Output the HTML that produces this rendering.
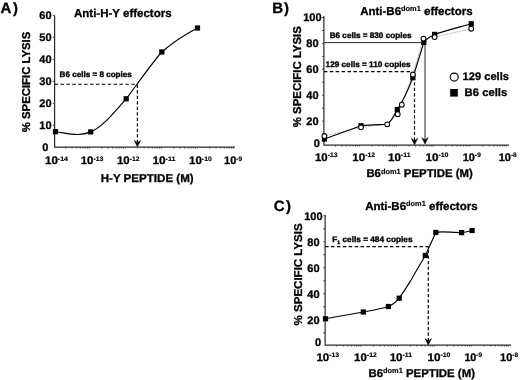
<!DOCTYPE html>
<html><head><meta charset="utf-8">
<style>
html,body{margin:0;padding:0;background:#fff;}
body{width:520px;height:380px;overflow:hidden;font-family:"Liberation Sans",sans-serif;}
svg{display:block;will-change:transform;}
text{font-family:"Liberation Sans",sans-serif;font-weight:bold;fill:#000;stroke:#000;stroke-width:0.3px;text-rendering:geometricPrecision;}
.an{stroke-width:0.35px;}
.tk{font-size:11.0px;}
.ax{font-size:11.4px;}
.tt{font-size:11.5px;}
.an{font-size:8.1px;}
.pl{font-size:15px;}
.lg{font-size:11px;}
.sup{font-size:7.4px;}
.xs{font-size:6.6px;stroke-width:0.15px;}
.sup{stroke-width:0.15px;}
</style></head><body>
<svg width="520" height="380" viewBox="0 0 520 380">
<rect width="520" height="380" fill="#fff"/>

<g id="A">
<text class="pl" x="0.6" y="13.4" textLength="17.3">A)</text>
<text class="tt" x="74" y="16.9" textLength="97.6" lengthAdjust="spacingAndGlyphs">Anti-H-Y effectors</text>
<text class="ax" transform="translate(29.8,132.2) rotate(-90)" textLength="100.5" lengthAdjust="spacingAndGlyphs">% SPECIFIC LYSIS</text>
<path d="M54.600 15.5V147.200H235" fill="none" stroke="#2a2a2a" stroke-width="1.2"/>
<path d="M52.8 125.3H54.6M52.8 103.3H54.6M52.8 81.3H54.6M52.8 59.3H54.6M52.8 37.3H54.6M52.8 15.3H54.6" stroke="#2a2a2a" stroke-width="0.9"/>
<g class="tk" text-anchor="middle">
<text x="45.4" y="151.3">0</text>
<text x="45.4" y="129.3">10</text>
<text x="45.4" y="107.3">20</text>
<text x="45.4" y="85.3">30</text>
<text x="45.4" y="63.3">40</text>
<text x="45.4" y="41.3">50</text>
<text x="45.4" y="19.3">60</text>
</g>
<path d="M65.8 147.4v1.3M72.2 147.4v1.3M76.7 147.4v1.3M80.2 147.4v1.3M83.0 147.4v1.3M85.4 147.4v1.3M87.5 147.4v1.3M89.4 147.4v1.3M101.8 147.4v1.3M108.2 147.4v1.3M112.7 147.4v1.3M116.2 147.4v1.3M119.0 147.4v1.3M121.4 147.4v1.3M123.5 147.4v1.3M125.4 147.4v1.3M137.8 147.4v1.3M144.2 147.4v1.3M148.7 147.4v1.3M152.2 147.4v1.3M155.0 147.4v1.3M157.4 147.4v1.3M159.5 147.4v1.3M161.4 147.4v1.3M173.8 147.4v1.3M180.2 147.4v1.3M184.7 147.4v1.3M188.2 147.4v1.3M191.0 147.4v1.3M193.4 147.4v1.3M195.5 147.4v1.3M197.4 147.4v1.3M209.8 147.4v1.3M216.2 147.4v1.3M220.7 147.4v1.3M224.2 147.4v1.3M227.0 147.4v1.3M229.4 147.4v1.3M231.5 147.4v1.3M233.4 147.4v1.3" stroke="#222" stroke-width="0.7"/>
<g class="tk">
<text x="45.0" y="164.3" textLength="22.9" lengthAdjust="spacingAndGlyphs">10<tspan class="xs" dy="-3.6">-14</tspan></text>
<text x="80.7" y="164.3" textLength="22.7" lengthAdjust="spacingAndGlyphs">10<tspan class="xs" dy="-3.6">-13</tspan></text>
<text x="117.0" y="164.3" textLength="22.6" lengthAdjust="spacingAndGlyphs">10<tspan class="xs" dy="-3.6">-12</tspan></text>
<text x="152.4" y="164.3" textLength="23.1" lengthAdjust="spacingAndGlyphs">10<tspan class="xs" dy="-3.6">-11</tspan></text>
<text x="189.1" y="164.3" textLength="22.7" lengthAdjust="spacingAndGlyphs">10<tspan class="xs" dy="-3.6">-10</tspan></text>
<text x="224.1" y="164.3" textLength="18.0" lengthAdjust="spacingAndGlyphs">10<tspan class="xs" dy="-3.6">-9</tspan></text>
</g>
<text class="ax" x="100.7" y="182.2" textLength="93" lengthAdjust="spacingAndGlyphs">H-Y PEPTIDE (M)</text>
<text class="an" x="59.6" y="76.9" textLength="72.2" lengthAdjust="spacingAndGlyphs">B6 cells = 8 copies</text>
<path d="M54.600 84.2H137.4" fill="none" stroke="#000" stroke-width="1.1" stroke-dasharray="3.5 2.4"/>
<path d="M137.400 137.600V84.2" fill="none" stroke="#000" stroke-width="1.2" stroke-dasharray="3.3 2.2"/>
<path d="M137.400 139.800V145" fill="none" stroke="#000" stroke-width="1.2"/>
<path d="M137.4 146.8L134.2 140.4L137.4 142.8L140.6 140.4Z" fill="#000" stroke="#000" stroke-width="0.5" stroke-linejoin="miter"/>
<path d="M55.5 131.7C63 132.6 70 134.6 78 134.5C83 134.4 87 133.4 90.700 131.900C103 127 115 111 126.200 98.800C133 90 155 59 161.800 52C172 43 186 34 197.500 28" fill="none" stroke="#000" stroke-width="1.15"/>
<g fill="#000">
<rect x="52.90" y="129.10" width="5.2" height="5.2"/>
<rect x="88.10" y="129.30" width="5.2" height="5.2"/>
<rect x="123.60" y="96.20" width="5.2" height="5.2"/>
<rect x="159.20" y="49.40" width="5.2" height="5.2"/>
<rect x="194.90" y="25.40" width="5.2" height="5.2"/>
</g></g>
<g id="B">
<text class="pl" x="272.3" y="12.5" textLength="16.8">B)</text>
<text class="tt" x="360.2" y="15">Anti-B6<tspan class="sup" dy="-3.9">dom1</tspan><tspan dy="3.9"> effectors</tspan></text>
<text class="ax" transform="translate(300.8,127.2) rotate(-90)" textLength="101" lengthAdjust="spacingAndGlyphs">% SPECIFIC LYSIS</text>
<path d="M323.900 16V145.100H509" fill="none" stroke="#2a2a2a" stroke-width="1.2"/>
<path d="M322.1 134.1H323.9M322.1 121.1H323.9M322.1 108.2H323.9M322.1 95.2H323.9M322.1 82.2H323.9M322.1 69.3H323.9M322.1 56.4H323.9M322.1 43.4H323.9M322.1 30.5H323.9M322.1 17.5H323.9" stroke="#2a2a2a" stroke-width="0.9"/>
<g class="tk" text-anchor="middle">
<text x="312.4" y="125.0">20</text>
<text x="312.4" y="99.1">40</text>
<text x="312.4" y="73.2">60</text>
<text x="312.4" y="47.3">80</text>
<text x="312.4" y="21.4">100</text>
<text x="316.9" y="147">0</text>
</g>
<path d="M335.5 145.3v1.3M342.0 145.3v1.3M346.6 145.3v1.3M350.1 145.3v1.3M353.0 145.3v1.3M355.5 145.3v1.3M357.6 145.3v1.3M359.5 145.3v1.3M372.3 145.3v1.3M378.8 145.3v1.3M383.4 145.3v1.3M386.9 145.3v1.3M389.8 145.3v1.3M392.3 145.3v1.3M394.4 145.3v1.3M396.3 145.3v1.3M409.1 145.3v1.3M415.6 145.3v1.3M420.2 145.3v1.3M423.7 145.3v1.3M426.6 145.3v1.3M429.1 145.3v1.3M431.2 145.3v1.3M433.1 145.3v1.3M445.9 145.3v1.3M452.4 145.3v1.3M457.0 145.3v1.3M460.5 145.3v1.3M463.4 145.3v1.3M465.9 145.3v1.3M468.0 145.3v1.3M469.9 145.3v1.3M482.7 145.3v1.3M489.2 145.3v1.3M493.8 145.3v1.3M497.3 145.3v1.3M500.2 145.3v1.3M502.7 145.3v1.3M504.8 145.3v1.3M506.7 145.3v1.3" stroke="#222" stroke-width="0.7"/>
<g class="tk">
<text x="315.0" y="160.8" textLength="22.5" lengthAdjust="spacingAndGlyphs">10<tspan class="xs" dy="-3.6">-13</tspan></text>
<text x="352.3" y="160.8" textLength="22.9" lengthAdjust="spacingAndGlyphs">10<tspan class="xs" dy="-3.6">-12</tspan></text>
<text x="388.1" y="160.8" textLength="22.5" lengthAdjust="spacingAndGlyphs">10<tspan class="xs" dy="-3.6">-11</tspan></text>
<text x="425.4" y="160.8" textLength="23.1" lengthAdjust="spacingAndGlyphs">10<tspan class="xs" dy="-3.6">-10</tspan></text>
<text x="462.8" y="160.8" textLength="18.0" lengthAdjust="spacingAndGlyphs">10<tspan class="xs" dy="-3.6">-9</tspan></text>
<text x="498.7" y="160.8" textLength="18.1" lengthAdjust="spacingAndGlyphs">10<tspan class="xs" dy="-3.6">-8</tspan></text>
</g>
<text class="ax" x="366.4" y="177.4">B6<tspan class="sup" dy="-3.9">dom1</tspan><tspan dy="3.9"> PEPTIDE (M)</tspan></text>
<text class="an" x="329.7" y="37.5" textLength="81.8" lengthAdjust="spacingAndGlyphs">B6 cells = 830 copies</text>
<text class="an" x="325.6" y="66.5" textLength="85" lengthAdjust="spacingAndGlyphs">129 cells = 110 copies</text>
<path d="M323.900 42.600H425V142" fill="none" stroke="#2a2a2a" stroke-width="1"/>
<path d="M425.0 144.0L421.8 137.6L425.0 140.0L428.2 137.6Z" fill="#000" stroke="#000" stroke-width="0.5" stroke-linejoin="miter"/>
<path d="M323.900 71.600H410" fill="none" stroke="#000" stroke-width="1.1" stroke-dasharray="3.5 2.4"/>
<path d="M414.500 135.100V80" fill="none" stroke="#000" stroke-width="1.2" stroke-dasharray="3.3 2.2"/>
<path d="M414.500 137.300V143" fill="none" stroke="#000" stroke-width="1.2"/>
<path d="M414.5 144.8L411.3 138.4L414.5 140.8L417.7 138.4Z" fill="#000" stroke="#000" stroke-width="0.5" stroke-linejoin="miter"/>
<path d="M324.4 136.0L361.0 127.3L387.2 124.3L397.7 114.2L401.8 104.7L412.9 74.5L423.4 38.6L434.6 37.1L471.2 28.7" fill="none" stroke="#8a8a8a" stroke-width="0.7" stroke-dasharray="1.6 1"/>
<path d="M324.400 139L361 125.700C370 124.600 380 124.700 387.200 124.300C392 121 395 114 397.300 109.500C403 101 408 90 412.900 77.700L423.800 42.400C426 39 430 36.500 434.600 34.400C446 30.600 460 27 471.200 23.800" fill="none" stroke="#000" stroke-width="1.15"/>
<g fill="#000">
<rect x="321.80" y="136.40" width="5.2" height="5.2"/>
<rect x="358.40" y="123.10" width="5.2" height="5.2"/>
<rect x="394.70" y="106.90" width="5.2" height="5.2"/>
<rect x="410.30" y="75.10" width="5.2" height="5.2"/>
<rect x="421.20" y="39.80" width="5.2" height="5.2"/>
<rect x="432.00" y="31.80" width="5.2" height="5.2"/>
<rect x="468.60" y="21.20" width="5.2" height="5.2"/>
</g>
<g fill="#fff" stroke="#000" stroke-width="1.05">
<circle cx="324.40" cy="136.00" r="2.4"/>
<circle cx="361.00" cy="127.30" r="2.4"/>
<circle cx="387.20" cy="124.30" r="2.4"/>
<circle cx="397.70" cy="114.20" r="2.4"/>
<circle cx="401.80" cy="104.70" r="2.4"/>
<circle cx="412.90" cy="74.50" r="2.4"/>
<circle cx="423.40" cy="38.60" r="2.4"/>
<circle cx="434.60" cy="37.10" r="2.4"/>
<circle cx="471.20" cy="28.70" r="2.4"/>
</g>
<circle cx="454.2" cy="77.1" r="4" fill="#fff" stroke="#000" stroke-width="1.15"/>
<text class="lg" x="462.6" y="80.3" textLength="46.4" lengthAdjust="spacingAndGlyphs">129 cells</text>
<rect x="450.200" y="89" width="7.600" height="7.600" fill="#000"/>
<text class="lg" x="464.6" y="96.2" textLength="42.600" lengthAdjust="spacingAndGlyphs">B6 cells</text>
</g>
<g id="C">
<text class="pl" x="273.7" y="210.6" textLength="17.2">C)</text>
<text class="tt" x="365.2" y="210">Anti-B6<tspan class="sup" dy="-3.9">dom1</tspan><tspan dy="3.9"> effectors</tspan></text>
<text class="ax" transform="translate(301.6,325.400) rotate(-90)" textLength="102" lengthAdjust="spacingAndGlyphs">% SPECIFIC LYSIS</text>
<path d="M325.100 215V345.100H511" fill="none" stroke="#2a2a2a" stroke-width="1.2"/>
<path d="M323.3 332.8H325.1M323.3 319.8H325.1M323.3 306.8H325.1M323.3 293.8H325.1M323.3 280.8H325.1M323.3 267.8H325.1M323.3 254.8H325.1M323.3 241.8H325.1M323.3 228.8H325.1M323.3 215.8H325.1" stroke="#2a2a2a" stroke-width="0.9"/>
<g class="tk" text-anchor="middle">
<text x="313.4" y="323.7">20</text>
<text x="313.4" y="297.7">40</text>
<text x="313.4" y="271.7">60</text>
<text x="313.4" y="245.7">80</text>
<text x="313.4" y="219.7">100</text>
<text x="318" y="345.600">0</text>
</g>
<path d="M336.6 345.3v1.3M343.1 345.3v1.3M347.7 345.3v1.3M351.3 345.3v1.3M354.2 345.3v1.3M356.7 345.3v1.3M358.8 345.3v1.3M360.7 345.3v1.3M373.5 345.3v1.3M380.0 345.3v1.3M384.6 345.3v1.3M388.2 345.3v1.3M391.1 345.3v1.3M393.6 345.3v1.3M395.7 345.3v1.3M397.6 345.3v1.3M410.4 345.3v1.3M416.9 345.3v1.3M421.5 345.3v1.3M425.1 345.3v1.3M428.0 345.3v1.3M430.5 345.3v1.3M432.6 345.3v1.3M434.5 345.3v1.3M447.3 345.3v1.3M453.8 345.3v1.3M458.4 345.3v1.3M462.0 345.3v1.3M464.9 345.3v1.3M467.4 345.3v1.3M469.5 345.3v1.3M471.4 345.3v1.3M484.2 345.3v1.3M490.7 345.3v1.3M495.3 345.3v1.3M498.9 345.3v1.3M501.8 345.3v1.3M504.3 345.3v1.3M506.4 345.3v1.3M508.3 345.3v1.3" stroke="#222" stroke-width="0.7"/>
<g class="tk">
<text x="316.4" y="360.8" textLength="22.7" lengthAdjust="spacingAndGlyphs">10<tspan class="xs" dy="-3.6">-13</tspan></text>
<text x="354.1" y="360.8" textLength="22.7" lengthAdjust="spacingAndGlyphs">10<tspan class="xs" dy="-3.6">-12</tspan></text>
<text x="389.7" y="360.8" textLength="22.5" lengthAdjust="spacingAndGlyphs">10<tspan class="xs" dy="-3.6">-11</tspan></text>
<text x="427.4" y="360.8" textLength="23.1" lengthAdjust="spacingAndGlyphs">10<tspan class="xs" dy="-3.6">-10</tspan></text>
<text x="464.4" y="360.8" textLength="17.7" lengthAdjust="spacingAndGlyphs">10<tspan class="xs" dy="-3.6">-9</tspan></text>
<text x="500.1" y="360.8" textLength="18.1" lengthAdjust="spacingAndGlyphs">10<tspan class="xs" dy="-3.6">-8</tspan></text>
</g>
<text class="ax" x="368.5" y="376.8">B6<tspan class="sup" dy="-3.9">dom1</tspan><tspan dy="3.9"> PEPTIDE (M)</tspan></text>
<text class="an" x="332.3" y="241.6" textLength="80.2" lengthAdjust="spacingAndGlyphs">F<tspan font-size="5" dy="2.3">1</tspan><tspan dy="-2.3"> cells = 484 copies</tspan></text>
<path d="M325.100 246.600H428.300" fill="none" stroke="#000" stroke-width="1.1" stroke-dasharray="3.5 2.4"/>
<path d="M428.300 335.800V246.600" fill="none" stroke="#000" stroke-width="1.2" stroke-dasharray="3.3 2.2"/>
<path d="M428.300 338V343" fill="none" stroke="#000" stroke-width="1.2"/>
<path d="M428.3 345.0L425.1 338.6L428.3 341.0L431.5 338.6Z" fill="#000" stroke="#000" stroke-width="0.5" stroke-linejoin="miter"/>
<path d="M325.500 318.800C338 316.500 352 314 363.300 312C372 310.400 382 308.500 388.400 306.500C393 305 396 302 399.200 298.200C405 290 408 285 411.600 279.200C416 271 421 263 425.300 255.500L435.800 232.400C440 231 452 232.600 461.600 232.600C465 232.300 469 231.300 472.100 230.500" fill="none" stroke="#000" stroke-width="1.15"/>
<g fill="#000">
<rect x="322.90" y="316.20" width="5.2" height="5.2"/>
<rect x="360.70" y="309.40" width="5.2" height="5.2"/>
<rect x="385.80" y="303.90" width="5.2" height="5.2"/>
<rect x="396.60" y="295.60" width="5.2" height="5.2"/>
<rect x="422.70" y="252.90" width="5.2" height="5.2"/>
<rect x="433.20" y="229.80" width="5.2" height="5.2"/>
<rect x="459.00" y="230.00" width="5.2" height="5.2"/>
<rect x="469.50" y="227.90" width="5.2" height="5.2"/>
</g></g>
</svg>
</body></html>
